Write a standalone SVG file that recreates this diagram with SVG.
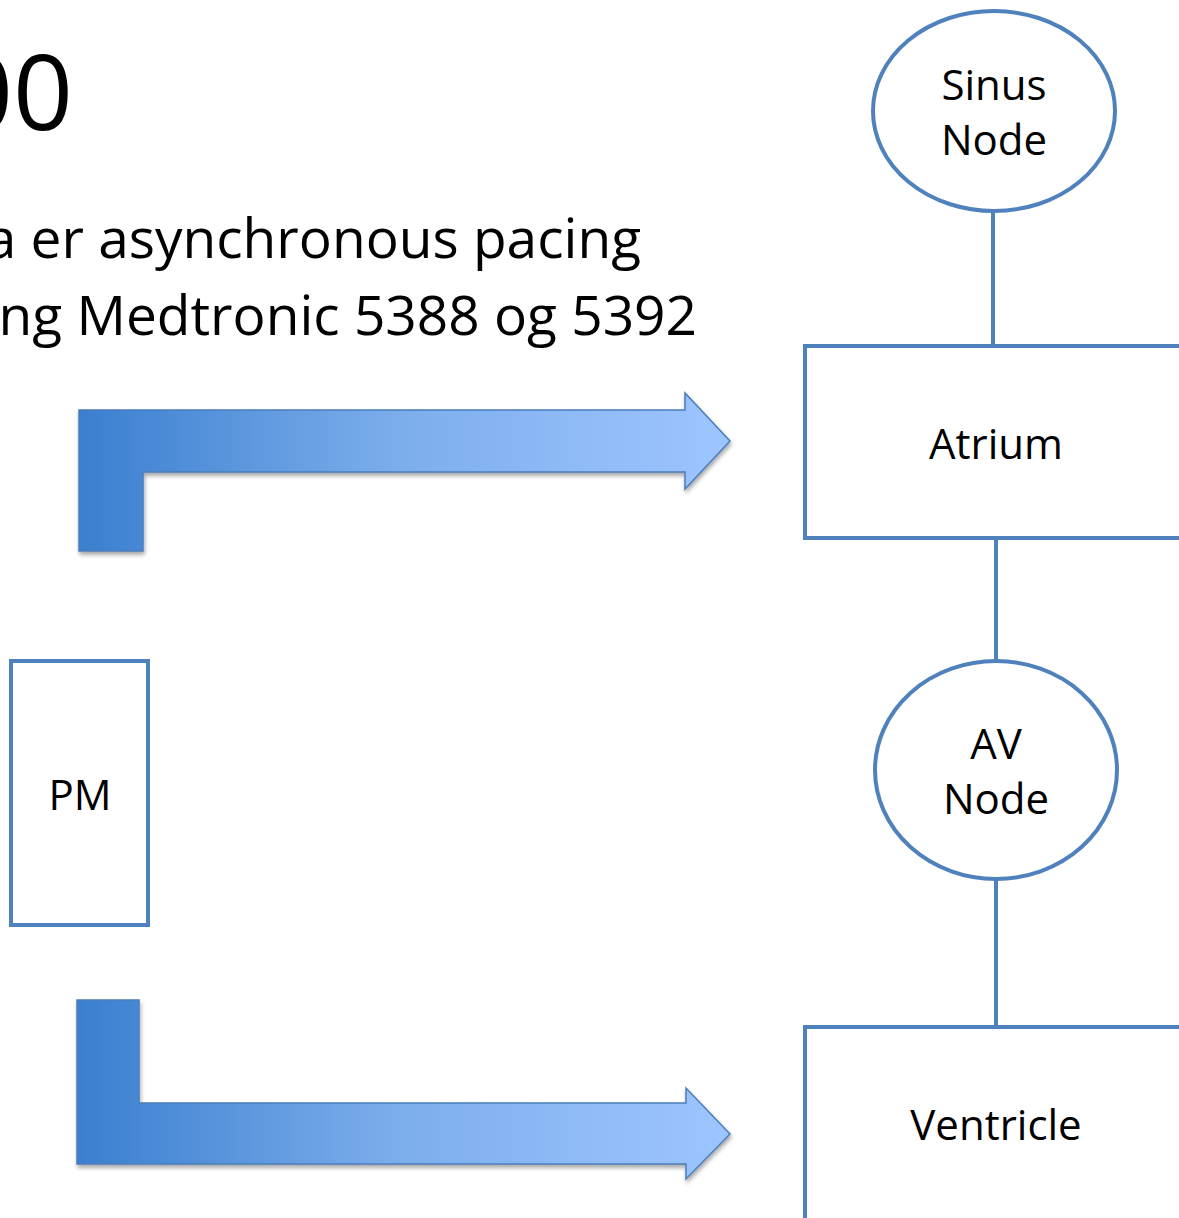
<svg xmlns="http://www.w3.org/2000/svg" width="1179" height="1218" viewBox="0 0 1179 1218">
  <style>
    .txt { font-family: "Open Sans", "Liberation Sans", sans-serif; fill: #000; }
    .lbl { font-size: 42px; text-anchor: middle; }
    .node { fill: #fff; stroke: #4F81BD; stroke-width: 4; }
    .conn { stroke: #4F81BD; stroke-width: 4; fill: none; }
    .arrow { fill: url(#grad); stroke: #4A7EBB; stroke-width: 1.5; filter: url(#shadow); }
  </style>
  <defs>
    <linearGradient id="grad" x1="0" y1="0" x2="1" y2="0">
      <stop offset="0" stop-color="#3A7FCF"/>
      <stop offset="0.5" stop-color="#7DAEEC"/>
      <stop offset="1" stop-color="#9EC5FF"/>
    </linearGradient>
    <filter id="shadow" x="-5%" y="-10%" width="115%" height="130%">
      <feDropShadow dx="1" dy="3" stdDeviation="2" flood-color="#000" flood-opacity="0.35"/>
    </filter>
  </defs>
  <rect width="1179" height="1218" fill="#fff"/>

  <g id="title">
    <text class="txt" x="73" y="130" font-size="105" text-anchor="end">00</text>
    <text class="txt" x="641" y="258" font-size="55" text-anchor="end">a er asynchronous pacing</text>
    <text class="txt" x="697" y="335" font-size="55" text-anchor="end">ng Medtronic 5388 og 5392</text>
  </g>

  <g id="arrow-top">
    <path class="arrow" d="M79,551 L79,410 L685,410 L685,393 L730,441 L685,489 L685,472 L143,472 L143,551 Z"/>
  </g>
  <g id="arrow-bottom">
    <path class="arrow" d="M77,1000 L139,1000 L139,1103 L686,1103 L686,1088 L730,1134 L686,1179 L686,1164 L77,1164 Z"/>
  </g>

  <g id="connectors">
    <line class="conn" x1="993" y1="211" x2="993" y2="346"/>
    <line class="conn" x1="996" y1="538" x2="996" y2="661"/>
    <line class="conn" x1="996" y1="879" x2="996" y2="1027"/>
  </g>

  <g id="sinus-node">
    <ellipse class="node" cx="994" cy="111" rx="121" ry="100"/>
    <text class="txt lbl" x="994" y="100">Sinus</text>
    <text class="txt lbl" x="994" y="155">Node</text>
  </g>
  <g id="atrium">
    <rect class="node" x="805" y="346" width="382" height="192"/>
    <text class="txt lbl" x="996" y="459">Atrium</text>
  </g>
  <g id="av-node">
    <ellipse class="node" cx="996" cy="770" rx="121" ry="109"/>
    <text class="txt lbl" x="996" y="759">AV</text>
    <text class="txt lbl" x="996" y="814">Node</text>
  </g>
  <g id="ventricle">
    <rect class="node" x="805" y="1027" width="382" height="250"/>
    <text class="txt lbl" x="996" y="1140">Ventricle</text>
  </g>
  <g id="pm">
    <rect class="node" x="11" y="661" width="137" height="264"/>
    <text class="txt lbl" x="80" y="810">PM</text>
  </g>
</svg>
